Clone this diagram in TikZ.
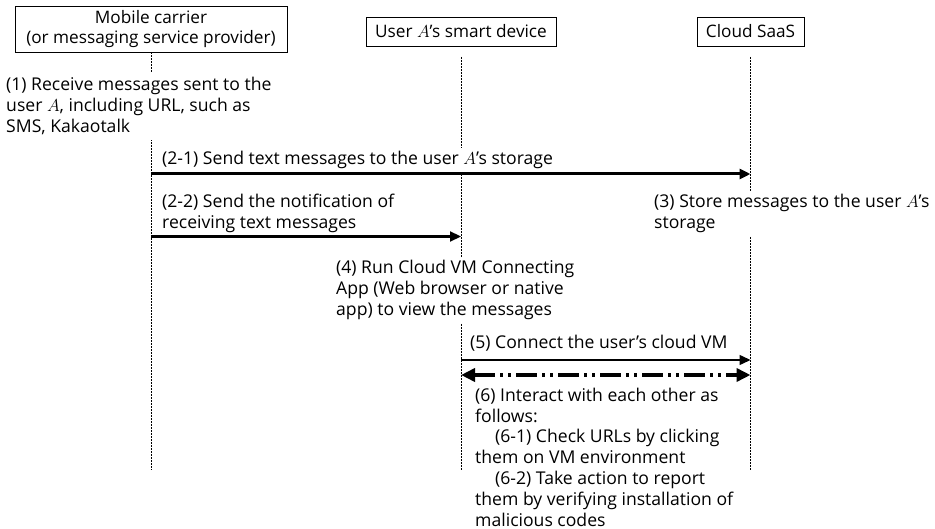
\documentclass[tikz,border=0pt]{standalone}
\usepackage{fontspec}
\setmainfont{Open Sans}
\usetikzlibrary{arrows.meta}
\begin{document}
\begin{tikzpicture}[x=1pt,y=-1pt,
  every node/.style={font=\fontsize{17.6}{20.8}\selectfont, text=black},
  actor/.style={draw, line width=0.9pt, align=center, inner sep=0pt, font=\fontsize{17.2}{19.5}\selectfont},
  life/.style={line width=0.8pt, dash pattern=on 2pt off 1pt},
  lbl/.style={anchor=west, align=left, fill=white, inner xsep=3pt, inner ysep=3pt},
  msg/.style={-{Triangle[length=11pt,width=10pt]}},
  inter/.style={{Triangle[length=14pt,width=13pt]}-{Triangle[length=14pt,width=13pt]}, line width=3.5pt,
    dash pattern=on 21pt off 5pt on 3pt off 5pt on 3pt off 5pt},
]
\useasboundingbox[fill=white] (0,0) rectangle (935,529);

% actors
\node[actor, minimum width=272pt, minimum height=46pt] (mc) at (151,29)
  {Mobile carrier\\(or messaging service provider)};
\node[actor, minimum width=190pt, minimum height=29pt] (ud) at (461,31.5)
  {User $A$’s smart device};
\node[actor, minimum width=107pt, minimum height=29pt] (cs) at (750.5,31.5)
  {Cloud SaaS};

% lifeline ends
\coordinate (t2) at (461,57);
\coordinate (t3) at (750.5,57);
\coordinate (e1) at (151,470);
\coordinate (e2) at (461,470);
\coordinate (e3) at (750.5,470);

\draw[life] (mc.south) -- (e1);
\draw[life] (t2) -- (e2);
\draw[life] (t3) -- (e3);

% labels
\node[lbl, inner ysep=5pt] (l1) at (3,106)
  {(1) Receive messages sent to the\\user $A$, including URL, such as\\SMS, Kakaotalk};
\node[lbl] (l21) at (159,160)
  {(2-1) Send text messages to the user $A$’s storage};
\node[lbl, inner ysep=2pt] (l22) at (159,213.5)
  {(2-2) Send the notification of\\receiving text messages};
\node[lbl] (l3) at (651,213.5)
  {(3) Store messages to the user $A$’s\\storage};
\node[lbl] (l4) at (333,290)
  {(4) Run Cloud VM Connecting\\App (Web browser or native\\app) to view the messages};
\node[lbl] (l5) at (467,343)
  {(5) Connect the user’s cloud VM};
\node[lbl, inner ysep=1pt] (l6) at (472,457)
  {(6) Interact with each other as\\follows:\\
   \hspace*{20pt}(6-1) Check URLs by clicking\\them on VM environment\\
   \hspace*{20pt}(6-2) Take action to report\\them by verifying installation of\\malicious codes};

% message rows
\coordinate (y21) at (0,174);
\coordinate (y22) at (0,236.5);
\coordinate (y5) at (0,360);
\coordinate (y6) at (0,375);

\draw[msg, line width=3pt] (mc |- y21) -- (cs |- y21);
\draw[msg, line width=2.2pt] (mc |- y22) -- (ud |- y22);
\draw[msg, line width=1.5pt] (ud |- y5) -- (cs |- y5);
\draw[inter] (ud |- y6) -- (cs |- y6);
\end{tikzpicture}
\end{document}
